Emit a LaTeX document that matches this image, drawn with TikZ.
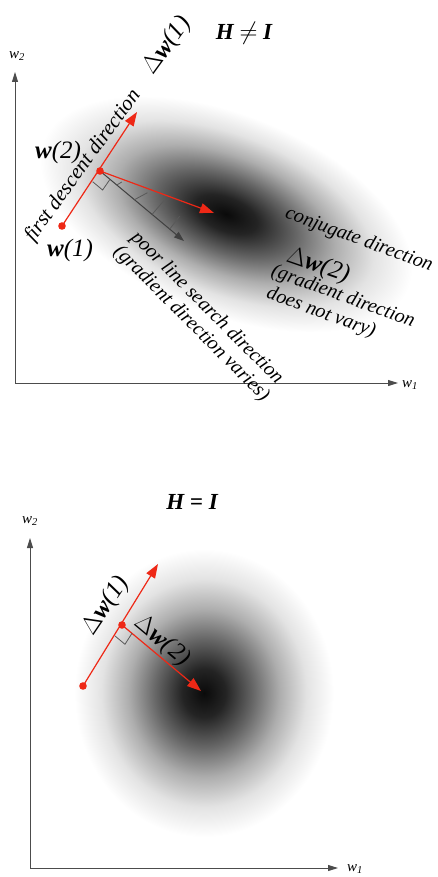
\documentclass[tikz,border=0pt]{standalone}
\usepackage{fontspec}
\setmainfont{Liberation Serif}
\usetikzlibrary{arrows.meta,calc}
\definecolor{arrred}{RGB}{238,40,22}
\newcommand{\wv}{\textbf{\textit{w}}}
\newcommand{\dw}{$\Delta$\wv}
\pgfdeclareradialshading{errbowl}{\pgfpointorigin}{color(0bp)=(black!96); color(4bp)=(black!86); color(9bp)=(black!60); color(14bp)=(black!32); color(19bp)=(black!11); color(24bp)=(white); color(50bp)=(white)}

\begin{document}
\begin{tikzpicture}[x=1pt,y=-1pt,
  every node/.style={font=\fontsize{20}{22}\selectfont\itshape,inner sep=0pt},
  ax/.style={draw=black!70,line width=0.9pt,-{Triangle[length=10pt,width=6pt]}},
  axlbl/.style={font=\fontsize{15}{17}\selectfont\itshape},
  ttl/.style={font=\fontsize{23}{25}\selectfont\bfseries\itshape},
  rdot/.style={fill=arrred},
  rarr/.style={draw=arrred,line width=1.2pt,-{Triangle[length=14pt,width=10pt]}},
  karr/.style={draw=black!75,line width=1pt,-{Triangle[length=10pt,width=7pt]}},
  ra/.style={draw=black!65,line width=0.8pt},
  big/.style={font=\fontsize{25}{27}\selectfont\itshape}]
\useasboundingbox (0,0) rectangle (437,877);

% H not I
\begin{scope}[transform canvas={shift={(226,214)},rotate=-22}]
  \shade[shading=errbowl] (0,0) ellipse (205 and 104);
\end{scope}
\coordinate (o1) at (15,383);
\coordinate (y1) at (15,72);
\coordinate (x1) at (398,383);
\draw[ax] (o1) -- (y1);
\draw[ax] (o1) -- (x1);
\node[axlbl] (lw2a) at (17,56) {w\textsubscript{2}};
\node[axlbl] (lw1a) at (410,385) {w\textsubscript{1}};
\node[ttl] (ttla) at (244,33) {H $\neq$ I};

\coordinate (w1a) at (62,226);
\coordinate (w2a) at (100,171);
\coordinate (d1a) at (137,112);
\coordinate (d2a) at (214,213);
\coordinate (pla) at (184,241);
\draw[rarr] (w1a) -- (d1a);
\draw[rarr] (w2a) -- (d2a);
\draw[karr] (w2a) -- (pla);
\fill[rdot] (w1a) circle (3.8);
\fill[rdot] (w2a) circle (3.8);
\coordinate (raa) at ($(w2a)!13pt!(w1a)$);
\coordinate (rab) at ($(w2a)!13pt!(pla)$);
\draw[ra] (raa) -- ($(raa)+(rab)-(w2a)$) -- (rab);
\foreach \t/\ex/\ey in {0.2/5/-3,0.41/13/-7,0.62/12/-14,0.83/10/-13}
  \draw[ra] ($(w2a)!\t!(pla)$) -- ++(\ex,\ey);

\node[rotate=54,font=\fontsize{21}{23}\selectfont\itshape] (fdd) at (83,166) {first descent direction};
\node[big,rotate=54] (dw1a) at (167,46) {\dw(1)};
\node[big] (w2lbl) at (58,152) {\wv(2)};
\node[big] (w1lbl) at (70,250) {\wv(1)};
\node[rotate=-45,align=center] (plsd) at (199,316) {poor line search direction\\(gradient direction varies)};
\node[rotate=-20] (cjd) at (359,240) {conjugate direction};
\node[big,rotate=-19] (dw2a) at (318,266) {\dw(2)};
\node[rotate=-20] (gdn) at (343,297) {(gradient direction};
\node[rotate=-20] (dnv) at (321,313) {does not vary)};

% H equal I
\shade[shading=errbowl] (204,693) ellipse (135 and 150);
\coordinate (o2) at (30,868);
\coordinate (y2) at (30,538);
\coordinate (x2) at (338,868);
\draw[ax] (o2) -- (y2);
\draw[ax] (o2) -- (x2);
\node[axlbl] (lw2b) at (30,521) {w\textsubscript{2}};
\node[axlbl] (lw1b) at (355,869) {w\textsubscript{1}};
\node[ttl] (ttlb) at (192,502) {H = I};

\coordinate (w1b) at (83,686);
\coordinate (w2b) at (122,625);
\coordinate (d1b) at (158,564);
\coordinate (d2b) at (201,691);
\draw[rarr] (w1b) -- (d1b);
\draw[rarr] (w2b) -- (d2b);
\fill[rdot] (w1b) circle (3.8);
\fill[rdot] (w2b) circle (3.8);
\coordinate (rba) at ($(w2b)!13pt!(w1b)$);
\coordinate (rbb) at ($(w2b)!13pt!(d2b)$);
\draw[ra] (rba) -- ($(rba)+(rbb)-(w2b)$) -- (rbb);
\node[big,rotate=56] (dw1b) at (106,606) {\dw(1)};
\node[big,rotate=-40] (dw2b) at (162,641) {\dw(2)};
\end{tikzpicture}
\end{document}
